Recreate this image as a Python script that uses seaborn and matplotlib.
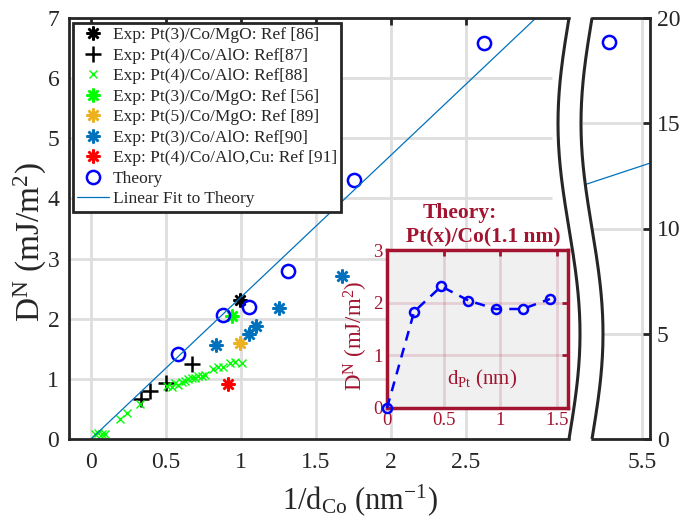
import numpy as np
import pandas as pd
import matplotlib
matplotlib.use("Agg")
import matplotlib.pyplot as plt
import seaborn as sns

# ---------------- data ----------------
ref86_x = [0.99]
ref86_y = [2.31]
ref87_x = [0.33, 0.39, 0.50, 0.67]
ref87_y = [0.66, 0.79, 0.93, 1.25]
ref88_x = [0.027, 0.049, 0.071, 0.093, 0.193, 0.238, 0.327, 0.504, 0.538, 0.560,
           0.582, 0.604, 0.627, 0.649, 0.671, 0.693, 0.716, 0.738, 0.760, 0.816,
           0.849, 0.882, 0.927, 0.960, 1.004]
ref88_y = [0.08, 0.10, 0.09, 0.08, 0.34, 0.44, 0.59, 0.88, 0.87, 0.93,
           0.90, 0.95, 0.97, 0.99, 1.01, 1.02, 1.04, 1.05, 1.06, 1.16,
           1.20, 1.19, 1.26, 1.28, 1.27]
ref56_x = [0.94]
ref56_y = [2.05]
ref89_x = [0.99]
ref89_y = [1.59]
ref90_x = [0.83, 1.05, 1.10, 1.25, 1.67]
ref90_y = [1.57, 1.75, 1.88, 2.18, 2.71]
ref91_x = [0.91]
ref91_y = [0.91]
theory_x = [0.58, 0.88, 1.05, 1.31, 1.75, 2.62, 5.28]
theory_y = [1.42, 2.07, 2.19, 2.79, 4.31, 6.58, 18.86]
fit_slope = 2.36
fit_intercept = 0.0
fit_x = [0.0, 6.0]

inset_x = [0.0, 0.24, 0.48, 0.72, 0.96, 1.20, 1.44]
inset_y = [0.0, 1.83, 2.31, 2.04, 1.88, 1.88, 2.07]

main_xticks = [0, 0.5, 1, 1.5, 2, 2.5]
main_xticklabels = ["0", "0.5", "1", "1.5", "2", "2.5"]
main_yticks = [0, 1, 2, 3, 4, 5, 6, 7]
right_xticks = [5.5]
right_xticklabels = ["5.5"]
right_yticks = [0, 5, 10, 15, 20]
inset_xticks = [0, 0.5, 1, 1.5]
inset_xticklabels = ["0", "0.5", "1", "1.5"]
inset_yticks = [0, 1, 2, 3]

labels = ["Exp: Pt(3)/Co/MgO: Ref [86]", "Exp: Pt(4)/Co/AlO: Ref[87]",
          "Exp: Pt(4)/Co/AlO: Ref[88]", "Exp: Pt(3)/Co/MgO: Ref [56]",
          "Exp: Pt(5)/Co/MgO: Ref [89]", "Exp: Pt(3)/Co/AlO: Ref[90]",
          "Exp: Pt(4)/Co/AlO,Cu: Ref [91]", "Theory", "Linear Fit to Theory"]

# ---------------- style ----------------
sns.set_style("white")
plt.rcParams["font.family"] = ["Liberation Serif", "DejaVu Serif"]
plt.rcParams["mathtext.fontset"] = "custom"
plt.rcParams["mathtext.rm"] = "Liberation Serif"
plt.rcParams["mathtext.it"] = "Liberation Serif:italic"
plt.rcParams["mathtext.bf"] = "Liberation Serif:bold"

SPINE = "#262626"
GRID = "#DEDEDE"
DARKRED = "#A2142F"
AST = (8, 2, 0)

W, H = 685, 529
fig = plt.figure(figsize=(W / 100, H / 100), dpi=100)


def fr(x0, y0, x1, y1):
    return [x0 / W, 1 - y1 / H, (x1 - x0) / W, (y1 - y0) / H]


ax = fig.add_axes(fr(69, 18, 580, 439))
ax2 = fig.add_axes(fr(583, 18, 650, 439))

ax.set_xlim(-0.1467, 3.26)
ax.set_ylim(0, 7)
ax2.set_xlim(5.107, 5.553)
ax2.set_ylim(0, 20)

# gridlines
ax.vlines(main_xticks, 0, 7, color=GRID, lw=2, zorder=0)
ax.hlines(main_yticks[1:-1], -0.1467, 3.07, color=GRID, lw=2, zorder=0)
ax2.vlines(right_xticks, 0, 20, color=GRID, lw=2, zorder=0)
ax2.hlines(right_yticks[1:-1], 5.0, 5.553, color=GRID, lw=2, zorder=0)


def pts(a, x, y, color, **kw):
    df = pd.DataFrame({"x": x, "y": y})
    sns.lineplot(data=df, x="x", y="y", ax=a, estimator=None, sort=False,
                 linestyle="", color=color, markeredgecolor=color, **kw)


for a in (ax, ax2):
    pts(a, ref86_x, ref86_y, "black", marker=AST, markersize=10,
        markeredgewidth=1.8, label=labels[0])
    pts(a, ref87_x, ref87_y, "black", marker="+", markersize=11,
        markeredgewidth=1.8, label=labels[1])
    pts(a, ref88_x, ref88_y, "#00FF00", marker="x", markersize=5.5,
        markeredgewidth=1.0, label=labels[2])
    pts(a, ref56_x, ref56_y, "#00FF00", marker=AST, markersize=10,
        markeredgewidth=1.8, label=labels[3])
    pts(a, ref89_x, ref89_y, "#EDB120", marker=AST, markersize=10,
        markeredgewidth=1.8, label=labels[4])
    pts(a, ref90_x, ref90_y, "#0072BD", marker=AST, markersize=10,
        markeredgewidth=1.8, label=labels[5])
    pts(a, ref91_x, ref91_y, "#FF0000", marker=AST, markersize=10,
        markeredgewidth=1.8, label=labels[6])
    pts(a, theory_x, theory_y, "#0000FF", marker="o", markersize=9.5,
        markeredgewidth=1.8, markerfacecolor="none", label=labels[7])
    fx = np.array(fit_x)
    sns.lineplot(x=fx, y=fit_slope * fx + fit_intercept, ax=a, color="#0072BD",
                 lw=0.9, label=labels[8], estimator=None, sort=False)

handles, labs = ax.get_legend_handles_labels()
if ax2.get_legend() is not None:
    ax2.get_legend().remove()
leg = ax.legend(handles, labs, loc="upper left",
                bbox_to_anchor=(73 / W, 1 - 23 / H), bbox_transform=fig.transFigure,
                borderaxespad=0, fontsize=12.5, labelspacing=0.25, borderpad=0.25,
                handlelength=1.8, handletextpad=0.25, fancybox=False,
                framealpha=1, edgecolor=SPINE)
leg.get_frame().set_linewidth(2)

# axes styling
ax.set_xticks(main_xticks)
ax.set_xticklabels(main_xticklabels)
ax.set_yticks(main_yticks)
ax.set_xlabel("")
ax.set_ylabel("")
ax.tick_params(direction="in", length=5, width=2, color=SPINE, labelsize=17,
               labelcolor=SPINE, top=True, pad=7)
ax.tick_params(axis="x", pad=9)
for s in ["left", "top", "bottom"]:
    ax.spines[s].set_linewidth(2)
    ax.spines[s].set_color(SPINE)
ax.spines["right"].set_visible(False)

ax2.set_xticks(right_xticks)
ax2.set_xticklabels(right_xticklabels)
ax2.set_yticks(right_yticks)
ax2.set_xlabel("")
ax2.set_ylabel("")
ax2.yaxis.tick_right()
ax2.tick_params(direction="in", length=5, width=2, color=SPINE, labelsize=17,
                labelcolor=SPINE, pad=5)
ax2.tick_params(axis="x", pad=9)
for s in ["right", "top", "bottom"]:
    ax2.spines[s].set_linewidth(2)
    ax2.spines[s].set_color(SPINE)
ax2.spines["left"].set_visible(False)

fig.text(360 / W, 1 - 500 / H, r"1/d$_\mathrm{Co}$ (nm$^{-1}$)", fontsize=22,
         ha="center", va="center", color=SPINE)
fig.text(30 / W, 1 - 242 / H, r"D$^\mathrm{N}$ (mJ/m$^2$)", fontsize=24,
         ha="center", va="center", rotation=90, color=SPINE)

# ---------------- axis-break decoration ----------------
ov = fig.add_axes([0, 0, 1, 1], zorder=5)
ov.set_xlim(0, W)
ov.set_ylim(H, 0)
ov.axis("off")
t = np.linspace(0, 1, 200)
yy = 18 + 421 * t
amp = 11
xl = 569 - amp * np.sin(2 * np.pi * t)
xr = 592 - amp * np.sin(2 * np.pi * t)
yy_fill = np.concatenate([[15], yy, [442]])
ov.fill_betweenx(yy_fill, np.concatenate([[xl[0]], xl, [xl[-1]]]) + 1.2,
                 np.concatenate([[xr[0]], xr, [xr[-1]]]) - 1.2, color="white", lw=0)
ov.plot(xl, yy, color=SPINE, lw=2.2, solid_capstyle="butt")
ov.plot(xr, yy, color=SPINE, lw=2.2, solid_capstyle="butt")

# ---------------- inset ----------------
axi = fig.add_axes(fr(387, 250, 568, 408), zorder=10)
axi.set_facecolor("#F0F0F0")
axi.set_xlim(0, 1.6)
axi.set_ylim(0, 3)
axi.vlines(inset_xticks[1:], 0, 3, color=DARKRED, alpha=0.15, lw=2, zorder=0)
axi.hlines(inset_yticks[1:-1], 0, 1.6, color=DARKRED, alpha=0.15, lw=2, zorder=0)
sns.lineplot(x=inset_x, y=inset_y, ax=axi, color="#0000FF", lw=1.8,
             linestyle="--", dashes=False, marker="o", markersize=6.5,
             markeredgewidth=1.8, markerfacecolor="none", markeredgecolor="#0000FF",
             estimator=None, sort=False, clip_on=False, zorder=5)
axi.lines[-1].set_dashes([4, 3])
axi.set_xticks(inset_xticks)
axi.set_xticklabels(inset_xticklabels)
axi.set_yticks(inset_yticks)
axi.set_xlabel("")
axi.set_ylabel("")
axi.tick_params(direction="in", length=4, width=2, color=DARKRED, labelsize=13.5,
                labelcolor=DARKRED, top=True, right=True, pad=3)
for s in axi.spines.values():
    s.set_linewidth(2.5)
    s.set_color(DARKRED)
axi.text(0.525, 0.18, r"d$_\mathrm{Pt}$ (nm)", transform=axi.transAxes,
         fontsize=15, color=DARKRED, ha="center", va="center")
axi.text(-0.17, 0.46, r"D$^\mathrm{N}$ (mJ/m$^2$)", transform=axi.transAxes,
         fontsize=16.5, color=DARKRED, ha="center", va="center", rotation=90)
axi.text((460 - 387) / 181, (408 - 213) / 158, "Theory:", transform=axi.transAxes,
         fontsize=15.5, fontweight="bold", color=DARKRED, ha="center", va="center")
axi.text((483 - 387) / 181, (408 - 237) / 158, "Pt(x)/Co(1.1 nm)",
         transform=axi.transAxes, fontsize=15.5, fontweight="bold",
         color=DARKRED, ha="center", va="center")

fig.savefig("out.png", dpi=100)
